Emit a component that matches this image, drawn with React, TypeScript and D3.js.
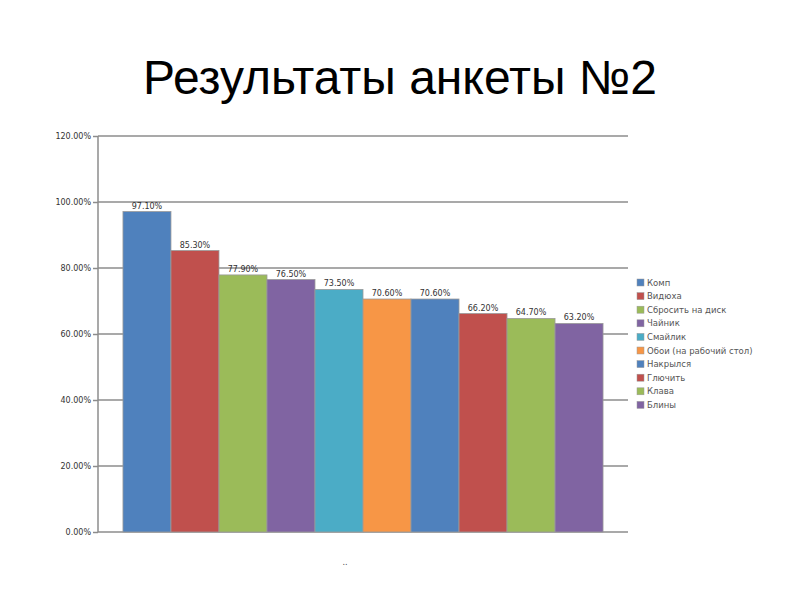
import React, { useEffect, useRef } from "react";
import * as d3 from "d3";

const categories = [
  "Комп",
  "Видюха",
  "Сбросить на диск",
  "Чайник",
  "Смайлик",
  "Обои (на рабочий стол)",
  "Накрылся",
  "Глючить",
  "Клава",
  "Блины",
];
const values = [97.1, 85.3, 77.9, 76.5, 73.5, 70.6, 70.6, 66.2, 64.7, 63.2];
const colors = [
  "#4F81BD", "#C0504D", "#9BBB59", "#8064A2", "#4BACC6",
  "#F79646", "#4F81BD", "#C0504D", "#9BBB59", "#8064A2",
];
const yTicks = [0, 20, 40, 60, 80, 100, 120];

const App = () => {
  const ref = useRef<SVGSVGElement>(null);

  useEffect(() => {
    if (!ref.current) return;
    const svg = d3.select(ref.current);
    svg.selectAll("*").remove();

    const left = 98, right = 628, top = 136, bottom = 532;

    const x = d3.scaleBand<string>()
      .domain(categories)
      .range([left, right])
      .paddingInner(0)
      .paddingOuter(0.52);

    const y = d3.scaleLinear().domain([0, 120]).range([bottom, top]);

    // Title
    svg.append("text")
      .attr("x", 400)
      .attr("y", 94)
      .attr("text-anchor", "middle")
      .style("font-family", "'Liberation Sans', Arial, sans-serif")
      .style("font-size", "48px")
      .style("fill", "#000")
      .text("Результаты анкеты №2");

    // Tick labels + tick marks
    svg.append("g")
      .attr("transform", `translate(${left},0)`)
      .call(d3.axisLeft(y)
        .tickValues(yTicks)
        .tickSize(5)
        .tickFormat(d => (d as number).toFixed(2) + "%"))
      .call(g => g.select(".domain").remove())
      .call(g => g.selectAll("line").attr("stroke", "#8c8c8c").attr("stroke-width", 1.5))
      .call(g => g.selectAll("text")
        .attr("x", -7)
        .style("font-family", "'DejaVu Sans', sans-serif")
        .style("font-size", "8px")
        .style("fill", "#333"));

    // Gridlines
    svg.append("g")
      .selectAll("line")
      .data(yTicks)
      .join("line")
      .attr("x1", left)
      .attr("x2", right)
      .attr("y1", d => y(d))
      .attr("y2", d => y(d))
      .attr("stroke", "#8c8c8c")
      .attr("stroke-width", 1.5);

    // Y axis line
    svg.append("line")
      .attr("x1", left).attr("x2", left)
      .attr("y1", top).attr("y2", bottom)
      .attr("stroke", "#8c8c8c")
      .attr("stroke-width", 1.5);

    // Bars
    svg.append("g")
      .selectAll("rect")
      .data(values)
      .join("rect")
      .attr("x", (d, i) => x(categories[i]) || 0)
      .attr("y", d => y(d))
      .attr("width", x.bandwidth())
      .attr("height", d => bottom - y(d))
      .attr("fill", (d, i) => colors[i])
      .attr("stroke", "#9a9a9a")
      .attr("stroke-width", 0.8);

    // Value labels
    svg.append("g")
      .selectAll("text")
      .data(values)
      .join("text")
      .attr("x", (d, i) => (x(categories[i]) || 0) + x.bandwidth() / 2)
      .attr("y", d => y(d) - 3)
      .attr("text-anchor", "middle")
      .style("font-family", "'DejaVu Sans', sans-serif")
      .style("font-size", "8px")
      .style("fill", "#333")
      .text(d => d.toFixed(2) + "%");

    // Category axis label (tiny)
    svg.append("text")
      .attr("x", 345)
      .attr("y", 565)
      .attr("text-anchor", "middle")
      .style("font-family", "'DejaVu Sans', sans-serif")
      .style("font-size", "8px")
      .style("fill", "#444")
      .text("..");

    // Legend
    const legend = svg.append("g").attr("transform", "translate(637,279)");
    const item = legend.selectAll("g")
      .data(categories)
      .join("g")
      .attr("transform", (d, i) => `translate(0,${i * 13.6})`);
    item.append("rect")
      .attr("width", 7)
      .attr("height", 7)
      .attr("fill", (d, i) => colors[i])
      .attr("stroke", "#9a9a9a")
      .attr("stroke-width", 0.5);
    item.append("text")
      .attr("x", 10)
      .attr("y", 6.5)
      .style("font-family", "'DejaVu Sans', sans-serif")
      .style("font-size", "8.5px")
      .style("fill", "#555")
      .text(d => d);
  }, []);

  return (
    <svg
      ref={ref}
      width={800}
      height={600}
      style={{ position: "absolute", left: 0, top: 0, background: "#fff" }}
    />
  );
};

export default App;
